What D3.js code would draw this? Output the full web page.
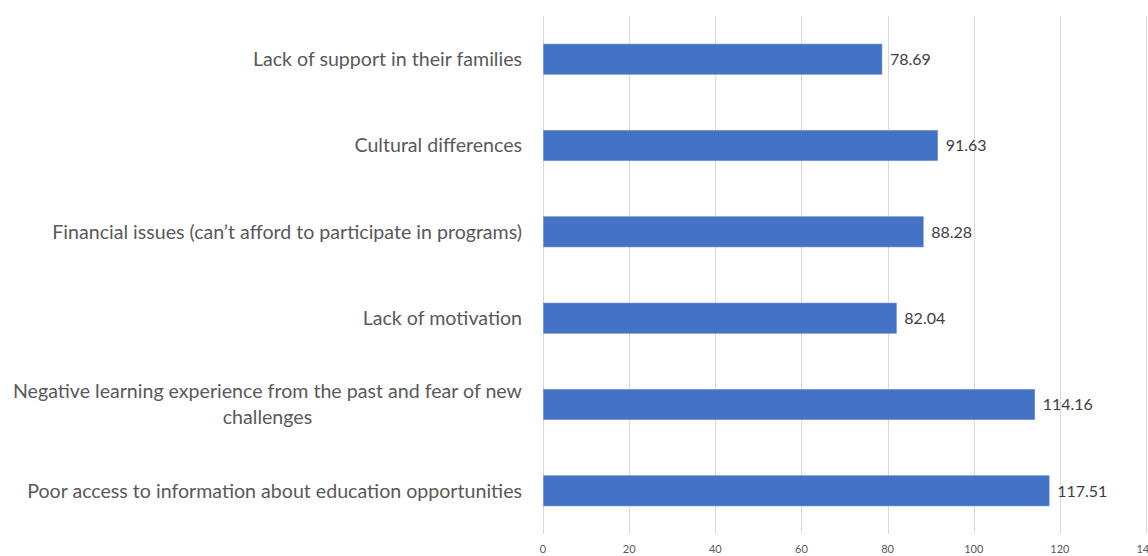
<!DOCTYPE html>
<html>
<head>
<meta charset="utf-8">
<script src="https://cdn.jsdelivr.net/npm/d3@7"></script>
<style>
  html, body { margin: 0; padding: 0; background: #fff; }
  svg { display: block; }
</style>
</head>
<body>
<svg id="chart" width="1148" height="556"></svg>
<script>
// Barriers to participation, top to bottom as drawn
const categories = [
  "Lack of support in their families",
  "Cultural differences",
  "Financial issues (can\u2019t afford to participate in programs)",
  "Lack of motivation",
  "Negative learning experience from the past and fear of new challenges",
  "Poor access to information about education opportunities"
];
const values = [78.69, 91.63, 88.28, 82.04, 114.16, 117.51];
const tickValues = [0, 20, 40, 60, 80, 100, 120, 140];

const svg = d3.select("#chart");
const margin = { left: 543, right: 2, top: 16, bottom: 22 };
const W = 1148, H = 556;

const x = d3.scaleLinear().domain([0, 140]).range([margin.left, W - margin.right]);
const y = d3.scaleBand().domain(categories).range([margin.top, H - margin.bottom])
  .paddingInner(0.65).paddingOuter(0.325);

// vertical gridlines
svg.append("g")
  .selectAll("line")
  .data(tickValues)
  .join("line")
  .attr("x1", d => Math.round(x(d)) + 0.5)
  .attr("x2", d => Math.round(x(d)) + 0.5)
  .attr("y1", margin.top)
  .attr("y2", H - margin.bottom)
  .attr("stroke", "#d9d9d9")
  .attr("stroke-width", 1);

// x axis tick labels
svg.append("g")
  .selectAll("text")
  .data(tickValues)
  .join("text")
  .attr("x", d => x(d))
  .attr("y", 553)
  .attr("text-anchor", "middle")
  .attr("font-family", "Lato, 'Open Sans', sans-serif")
  .attr("font-size", 11)
  .attr("fill", "#595959")
  .text(d => d);

// bars
svg.append("g")
  .selectAll("rect")
  .data(categories)
  .join("rect")
  .attr("x", x(0) + 0.5)
  .attr("y", d => y(d))
  .attr("width", (d, i) => x(values[i]) - x(0) - 0.5)
  .attr("height", y.bandwidth())
  .attr("fill", "#4472c4")
  .attr("stroke", "#6d8fd0")
  .attr("stroke-width", 0.6);

// value labels
svg.append("g")
  .selectAll("text")
  .data(categories)
  .join("text")
  .attr("x", (d, i) => x(values[i]) + 8)
  .attr("y", d => y(d) + y.bandwidth() / 2)
  .attr("dy", "0.36em")
  .attr("font-family", "Lato, 'Open Sans', sans-serif")
  .attr("font-size", 16)
  .attr("fill", "#404040")
  .text((d, i) => values[i].toFixed(2));

// category labels, wrapped when wider than the label column
const labelRight = 522;
const maxWidth = 530;
const lineH = 26;
const labels = svg.append("g")
  .attr("font-family", "Lato, 'Open Sans', sans-serif")
  .attr("font-size", 19.6)
  .attr("fill", "#595959");

categories.forEach(cat => {
  const cy = y(cat) + y.bandwidth() / 2;
  const t = labels.append("text");
  const words = cat.split(" ");
  const lines = [];
  let cur = [];
  const probe = labels.append("text");
  words.forEach(w => {
    const test = cur.concat([w]).join(" ");
    probe.text(test);
    if (probe.node().getComputedTextLength() > maxWidth && cur.length) {
      lines.push(cur.join(" "));
      cur = [w];
    } else {
      cur.push(w);
    }
  });
  lines.push(cur.join(" "));
  // widest line decides the block; lines are centred within it
  const widths = lines.map(l => { probe.text(l); return probe.node().getComputedTextLength(); });
  probe.remove();
  const blockW = d3.max(widths);
  const centerX = labelRight - blockW / 2;
  t.attr("text-anchor", lines.length > 1 ? "middle" : "end");
  lines.forEach((l, i) => {
    t.append("tspan")
      .attr("x", lines.length > 1 ? centerX : labelRight)
      .attr("y", cy + (i - (lines.length - 1) / 2) * lineH)
      .attr("dy", "0.35em")
      .text(l);
  });
});
</script>
</body>
</html>
